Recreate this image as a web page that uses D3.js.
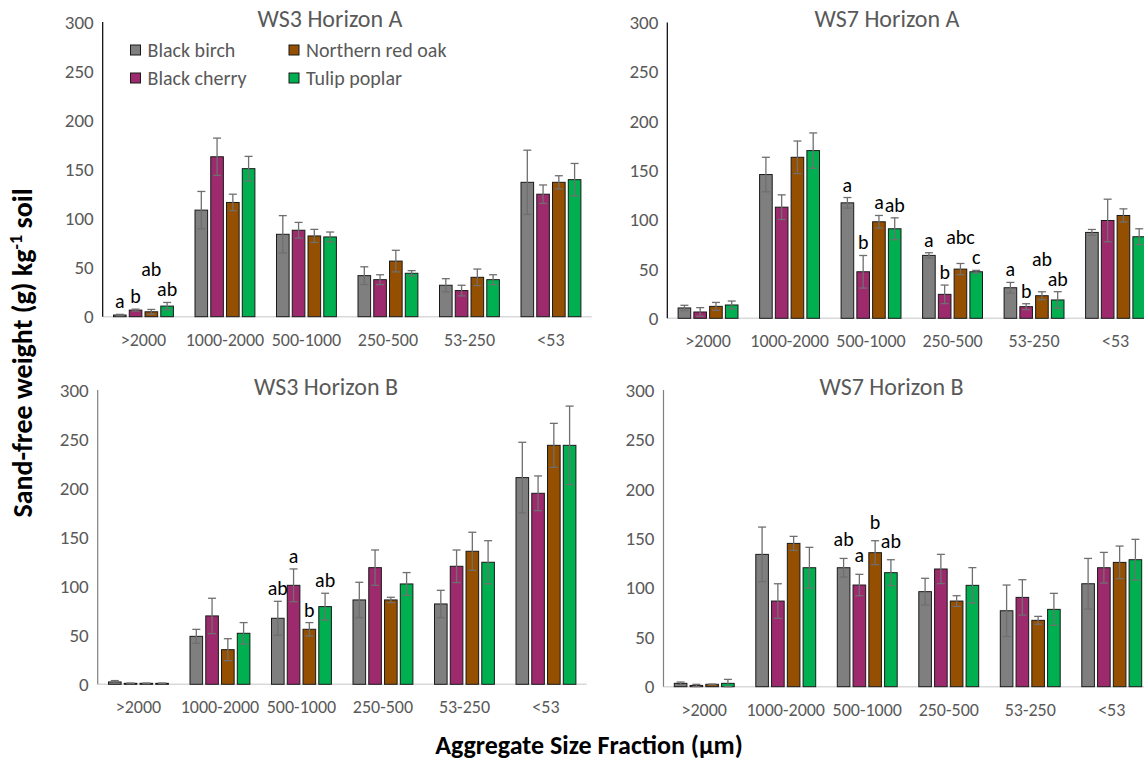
<!DOCTYPE html>
<html>
<head>
<meta charset="utf-8">
<script src="https://cdn.jsdelivr.net/npm/d3@7"></script>
<style>
  body { margin: 0; background: #fff; }
  svg text { font-family: "Carlito", "Liberation Sans Narrow", "Open Sans", sans-serif; }
</style>
</head>
<body>
<div id="chart"></div>
<script>
// categories and species
var fractions = ['>2000', '1000-2000', '500-1000', '250-500', '53-250', '<53'];
var species = ['Black birch', 'Black cherry', 'Northern red oak', 'Tulip poplar'];
var yTicks = [0, 50, 100, 150, 200, 250, 300];

// means per fraction, order of species as above
var ws3A = [[1.7, 6.7, 5, 10.8], [108.5, 162.8, 116.3, 150.7], [83.9, 88, 82.2, 81.2],
            [41.8, 37.7, 56.6, 44.2], [32, 26.6, 40.1, 37.7], [136.8, 124.7, 136.8, 139.5]];
var ws3AErr = [[0.7, 1, 2.4, 3.7], [19, 19, 8.4, 12.5], [19, 8, 6.7, 5],
               [9, 5, 11, 2.7], [6.7, 5.4, 8.4, 5], [32.7, 9.4, 6.7, 16.5]];
var ws3ALetters = [['a', 'b', 'ab', 'ab'], [], [], [], [], []];

var ws7A = [[10.5, 6.4, 12.1, 13.5], [145.8, 112.7, 163.3, 170.1], [117.1, 47.2, 97.9, 90.8],
            [63.8, 24.3, 49.9, 47.2], [31, 11.8, 22.9, 18.6], [87.1, 99.2, 104.3, 82.7]];
var ws7AErr = [[2.7, 4.4, 4, 4], [17.5, 12.5, 16.5, 17.9], [5.4, 16.5, 6.4, 11.1],
               [2.7, 9.4, 5.7, 1.4], [5.4, 3, 4, 8.4], [3, 21.6, 6.7, 8.1]];
var ws7ALetters = [[], [], ['a', 'b', 'a', 'ab'], ['a', 'b', 'abc', 'c'], ['a', 'b', 'ab', 'ab'], []];

var ws3B = [[2.4, 1, 1, 1], [48.9, 69.7, 35.3, 52], [67.3, 100.9, 56.1, 79.2],
            [86, 118.9, 86, 102.3], [81.9, 120.3, 135.6, 124.4], [210.7, 194.7, 243.6, 243.6]];
var ws3BErr = [[1.4, 0.3, 0.3, 0.3], [7.1, 18, 11.2, 10.9], [17.3, 16.7, 6.8, 13.6],
               [18, 18, 2.7, 11.6], [13.9, 16.6, 19.4, 22], [36, 17.7, 22.4, 40]];
var ws3BLetters = [[], [], ['ab', 'a', 'b', 'ab'], [], [], []];

var ws7B = [[3.4, 1.3, 2.4, 3.4], [133.8, 86.6, 144.9, 120.3], [120.3, 102.8, 135.5, 115.3],
            [96.1, 119, 86.6, 102.5], [76.8, 90.3, 67.1, 78.2], [104.1, 120.3, 125.7, 128.4]];
var ws7BErr = [[1.3, 1.1, 0.3, 4], [27.6, 17.5, 7.1, 20.6], [9.4, 10.8, 12.1, 13.1],
               [13.5, 14.8, 5.4, 17.9], [26, 17.9, 4, 16.2], [25.6, 15.5, 16.5, 20.6]];
var ws7BLetters = [[], [], ['ab', 'a', 'b', 'ab'], [], [], []];

var colors = d3.scaleOrdinal()
  .domain(species)
  .range(['#7f7f7f', '#9e2a6e', '#954f00', '#00b050']);

var width = 1144, height = 764;
var svg = d3.select('#chart').append('svg')
  .attr('width', width)
  .attr('height', height);

// vier panelen
var panels = [
  {title: 'WS3 Horizon A', values: ws3A, err: ws3AErr, letters: ws3ALetters,
   left: 102.7, bottom: 316.7, top: 22, titleX: 330, titleY: 27, axisColor: '#000', lift: 6},
  {title: 'WS7 Horizon A', values: ws7A, err: ws7AErr, letters: ws7ALetters,
   left: 667.3, bottom: 318.3, top: 22.5, titleX: 887, titleY: 27, axisColor: '#000', lift: 6},
  {title: 'WS3 Horizon B', values: ws3B, err: ws3BErr, letters: ws3BLetters,
   left: 97.7, bottom: 684.3, top: 390, titleX: 326, titleY: 395, axisColor: '#808080', lift: 6},
  {title: 'WS7 Horizon B', values: ws7B, err: ws7BErr, letters: ws7BLetters,
   left: 663.5, bottom: 686.7, top: 390, titleX: 891.5, titleY: 395, axisColor: '#808080', lift: 12}
];

var plotWidth = 489;

panels.forEach(function(p) {
  var g = svg.append('g');

  var x0 = d3.scaleBand()
    .domain(fractions)
    .range([p.left, p.left + plotWidth])
    .paddingInner(0.265)
    .paddingOuter(0.1325);

  var x1 = d3.scaleBand()
    .domain(species)
    .range([0, x0.bandwidth()])
    .paddingInner(0.2);

  var y = d3.scaleLinear()
    .domain([0, 300])
    .range([p.bottom, p.top]);

  // x-as lijn
  g.append('line')
    .attr('x1', p.left).attr('x2', p.left + plotWidth)
    .attr('y1', p.bottom).attr('y2', p.bottom)
    .attr('stroke', '#d9d9d9').attr('stroke-width', 1.5);

  // x-as labels
  g.selectAll('.xlab')
    .data(fractions)
    .enter().append('text')
    .attr('x', function(d) { return x0(d) + x0.bandwidth() / 2; })
    .attr('y', p.bottom + 29)
    .attr('text-anchor', 'middle')
    .attr('font-size', 18)
    .attr('fill', '#595959')
    .text(function(d) { return d; });

  // y-as
  g.append('line')
    .attr('x1', p.left).attr('x2', p.left)
    .attr('y1', p.bottom).attr('y2', p.top)
    .attr('stroke', p.axisColor).attr('stroke-width', 1.2);

  g.selectAll('.ylab')
    .data(yTicks)
    .enter().append('text')
    .attr('x', p.left - 9)
    .attr('y', function(d) { return y(d); })
    .attr('dy', '0.35em')
    .attr('text-anchor', 'end')
    .attr('font-size', 19)
    .attr('fill', '#595959')
    .text(function(d) { return d; });

  // titel
  g.append('text')
    .attr('x', p.titleX)
    .attr('y', p.titleY)
    .attr('text-anchor', 'middle')
    .attr('font-size', 24)
    .attr('fill', '#595959')
    .text(p.title);

  // balken
  var groups = g.selectAll('.grp')
    .data(fractions)
    .enter().append('g')
    .attr('transform', function(d) { return 'translate(' + x0(d) + ',0)'; });

  groups.each(function(f, i) {
    var grp = d3.select(this);
    var rows = species.map(function(s, j) {
      return {s: s, v: p.values[i][j], e: p.err[i][j], l: p.letters[i][j] || ''};
    });

    grp.selectAll('rect')
      .data(rows)
      .enter().append('rect')
      .attr('x', function(d) { return x1(d.s); })
      .attr('y', function(d) { return y(d.v); })
      .attr('width', x1.bandwidth())
      .attr('height', function(d) { return p.bottom - y(d.v); })
      .attr('fill', function(d) { return colors(d.s); })
      .attr('stroke', '#1a1a1a')
      .attr('stroke-width', 1);

    // foutbalken
    var eb = grp.selectAll('.eb')
      .data(rows)
      .enter().append('g')
      .attr('stroke', '#6f6f6f')
      .attr('stroke-width', 1.3);
    eb.append('line')
      .attr('x1', function(d) { return x1(d.s) + x1.bandwidth() / 2; })
      .attr('x2', function(d) { return x1(d.s) + x1.bandwidth() / 2; })
      .attr('y1', function(d) { return y(Math.max(0, d.v - d.e)); })
      .attr('y2', function(d) { return y(d.v + d.e); });
    eb.append('line')
      .attr('x1', function(d) { return x1(d.s) + x1.bandwidth() / 2 - 4; })
      .attr('x2', function(d) { return x1(d.s) + x1.bandwidth() / 2 + 4; })
      .attr('y1', function(d) { return y(d.v + d.e); })
      .attr('y2', function(d) { return y(d.v + d.e); });
    eb.append('line')
      .attr('x1', function(d) { return x1(d.s) + x1.bandwidth() / 2 - 4; })
      .attr('x2', function(d) { return x1(d.s) + x1.bandwidth() / 2 + 4; })
      .attr('y1', function(d) { return y(Math.max(0, d.v - d.e)); })
      .attr('y2', function(d) { return y(Math.max(0, d.v - d.e)); });

    // letters, van rechts naar links zodat overlappende labels omhoog schuiven
    var placed = [];
    for (var k = rows.length - 1; k >= 0; k--) {
      var r = rows[k];
      if (!r.l) continue;
      var cx = x1(r.s) + x1.bandwidth() / 2;
      var w = r.l.length * 10;
      var by = y(r.v + r.e) - p.lift;
      placed.forEach(function(q) {
        var hOverlap = Math.abs(q.cx - cx) < (q.w + w) / 2;
        if (hOverlap && Math.abs(by - q.by) < 20) by = q.by - 20;
      });
      placed.push({cx: cx, w: w, by: by});
      grp.append('text')
        .attr('x', cx)
        .attr('y', by)
        .attr('text-anchor', 'middle')
        .attr('font-size', 20)
        .attr('fill', '#000')
        .text(r.l);
    }
  });
});

// legenda in eerste paneel
var legendPos = [[130.5, 50], [130.5, 78], [289, 50], [289, 78]];
var legend = svg.selectAll('.legend')
  .data(species)
  .enter().append('g')
  .attr('transform', function(d, i) { return 'translate(' + legendPos[i][0] + ',' + legendPos[i][1] + ')'; });
legend.append('rect')
  .attr('x', 0).attr('y', -5)
  .attr('width', 10).attr('height', 10)
  .attr('fill', function(d) { return colors(d); })
  .attr('stroke', '#1a1a1a');
legend.append('text')
  .attr('x', 17)
  .attr('dy', '0.35em')
  .attr('font-size', 20)
  .attr('fill', '#595959')
  .text(function(d) { return d; });

// as titels
var yTitle = svg.append('text')
  .attr('transform', 'translate(32,353) rotate(-90)')
  .attr('text-anchor', 'middle')
  .attr('font-size', 28)
  .attr('font-weight', 'bold')
  .attr('fill', '#000');
yTitle.append('tspan').text('Sand-free weight (g) kg');
yTitle.append('tspan').attr('dy', -10).attr('font-size', 18).text('-1');
yTitle.append('tspan').attr('dy', 10).text(' soil');

svg.append('text')
  .attr('x', 589)
  .attr('y', 754)
  .attr('text-anchor', 'middle')
  .attr('font-size', 26)
  .attr('font-weight', 'bold')
  .attr('fill', '#000')
  .text('Aggregate Size Fraction (µm)');
</script>
</body>
</html>
